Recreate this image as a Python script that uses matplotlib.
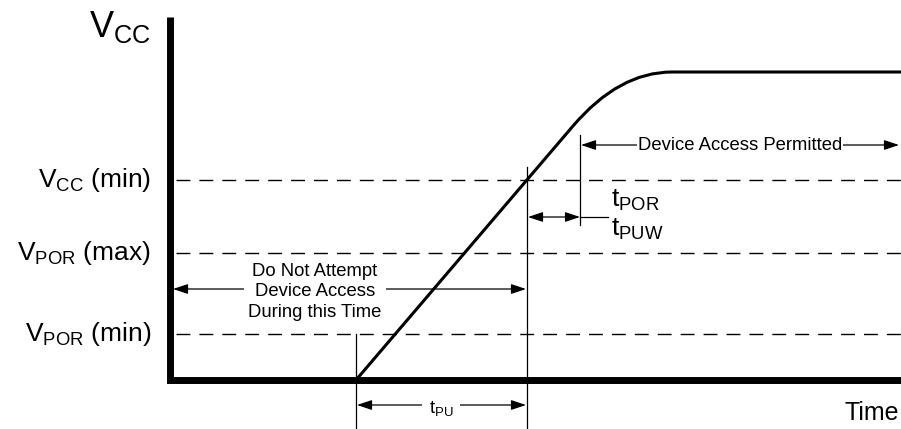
import matplotlib
matplotlib.use('Agg')
import matplotlib.pyplot as plt
from matplotlib.path import Path
from matplotlib.patches import PathPatch

plt.rcParams['font.family'] = ['Liberation Sans', 'DejaVu Sans']

# diagram units = pixels of the 901x429 drawing, y grows downward
level_y = [180, 253, 334]
level_labels = [r'$\mathregular{V_{CC}}$ (min)',
                r'$\mathregular{V_{POR}}$ (max)',
                r'$\mathregular{V_{POR}}$ (min)']

t_ramp_start = 356   # supply starts to rise
t_vcc_min = 527      # supply reaches Vcc(min)
t_access = 580       # end of tPOR / tPUW
t_end = 901

# Vcc curve: straight ramp, rounded knee, flat top
ramp_x = [356, 573, 619, 672, 901]
ramp_y = [380, 126, 72, 72, 72]
ramp_codes = [Path.MOVETO, Path.LINETO, Path.CURVE3, Path.CURVE3, Path.LINETO]

axis_x = [170, 170, 901]
axis_y = [17, 380, 380]

fig = plt.figure(figsize=(9.01, 4.29), dpi=100)
ax = fig.add_axes([0, 0, 1, 1])
ax.set_xlim(0, 901)
ax.set_ylim(429, 0)
ax.axis('off')

# axes of the diagram
ax.plot(axis_x, axis_y, color='black', lw=5, solid_joinstyle='miter',
        solid_capstyle='butt', zorder=3)
ax.text(151, 37, r'$\mathregular{V_{CC}}$', fontsize=26, ha='right', va='baseline')
ax.text(899, 420, 'Time', fontsize=18, ha='right', va='baseline')

# threshold levels
for y, lab in zip(level_y, level_labels):
    ax.plot([176, t_end], [y, y], color='black', lw=1.0, dashes=(10, 6.5))
    ax.text(151, y + 7, lab, fontsize=19, ha='right', va='baseline')

# supply curve
verts = list(zip(ramp_x, ramp_y))
ax.add_patch(PathPatch(Path(verts, ramp_codes), fill=False, lw=2.2,
                       edgecolor='black', zorder=4))

# marker lines
ax.plot([t_ramp_start, t_ramp_start], [334, 429], color='black', lw=0.9)
ax.plot([t_vcc_min, t_vcc_min], [167, 429], color='black', lw=0.9)
ax.plot([t_access, t_access], [135, 225], color='black', lw=0.9)


def darrow(x0, x1, y):
    ax.annotate('', xy=(x1, y), xytext=(x0, y),
                arrowprops=dict(arrowstyle='<|-|>,head_length=0.9,head_width=0.3',
                                mutation_scale=10, lw=0.9, color='black',
                                shrinkA=0, shrinkB=0))


# do not attempt access
darrow(173, t_vcc_min - 1, 289)
ax.text(315, 292, 'Do Not Attempt\nDevice Access\nDuring this Time', fontsize=13.3,
        ha='center', va='center', linespacing=1.3, zorder=5,
        bbox=dict(boxstyle='square,pad=0.25', fc='white', ec='none'))

# tPU
darrow(t_ramp_start + 1, t_vcc_min - 1, 405)
ax.text(441, 408, r'$\mathregular{t_{PU}}$', fontsize=13.5, ha='center', va='center',
        zorder=5, bbox=dict(boxstyle='square,pad=0.35', fc='white', ec='none'))

# tPOR / tPUW
darrow(t_vcc_min + 1, t_access, 217)
ax.plot([t_access, 608], [217, 217], color='black', lw=0.9)
ax.text(611, 200, r'$\mathregular{t_{POR}}$', fontsize=19, ha='left', va='center')
ax.text(611, 229, r'$\mathregular{t_{PUW}}$', fontsize=19, ha='left', va='center')

# device access permitted
darrow(t_access + 1, 899, 145)
ax.text(740, 145, 'Device Access Permitted', fontsize=13.3, ha='center', va='center',
        zorder=5, bbox=dict(boxstyle='square,pad=0.05', fc='white', ec='none'))

fig.savefig('out.png', dpi=100)
